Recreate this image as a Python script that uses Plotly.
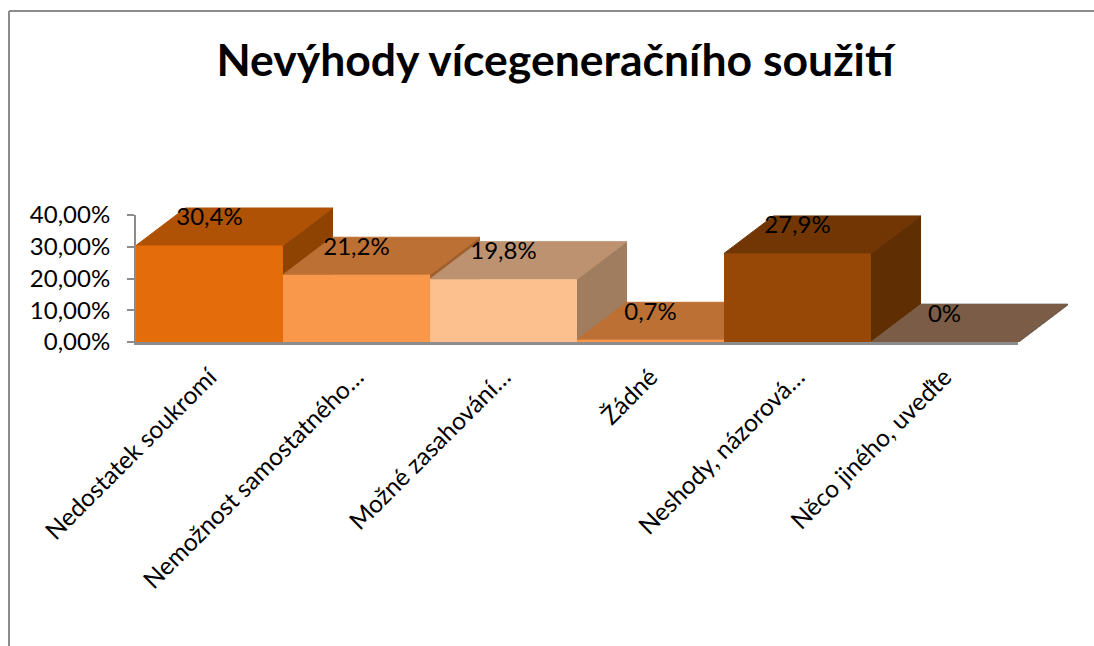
import plotly.graph_objects as go

title = "Nevýhody vícegeneračního soužití"
categories = ["Nedostatek soukromí", "Nemožnost samostatného…", "Možné zasahování…",
              "Žádné", "Neshody, názorová…", "Něco jiného, uveďte"]
values = [30.4, 21.2, 19.8, 0.7, 27.9, 0.0]
value_labels = ["30,4%", "21,2%", "19,8%", "0,7%", "27,9%", "0%"]
tick_values = [0, 10, 20, 30, 40]
tick_labels = ["0,00%", "10,00%", "20,00%", "30,00%", "40,00%"]

front_colors = ["#E46C0A", "#F9974A", "#FCC08F", "#F9974A", "#974806", "#A5795A"]
top_colors = ["#AF5206", "#BC7034", "#BD9270", "#BC7034", "#713604", "#7A5C47"]
side_colors = ["#8E4303", "#A05F2B", "#A07D5E", "#A05F2B", "#5F2E03", "#66503E"]

GREY = "#8C8C8C"
FONT = "Lato, Carlito, Calibri, sans-serif"
DEPTH_X = 0.337   # oblique offset, in category units
DEPTH_Y = 11.8    # oblique offset, in value units
LABEL_LIFT = 8.2

W, H = 1094, 646
PX_L, PX_R, PX_T, PX_B = 136, 1018, 215, 342      # the front plane
OUT_R, OUT_T = 1084, 190                           # the area the oblique faces may use

n = len(values)
unit_x = (PX_R - PX_L) / n
unit_y = (PX_B - PX_T) / 40


def face(xs, ys, color, line=None, width=1):
    return go.Scatter(x=xs, y=ys, mode="lines", fill="toself", fillcolor=color,
                      line=dict(color=line or color, width=width),
                      hoverinfo="skip", showlegend=False, cliponaxis=False,
                      xaxis="x", yaxis="y")


fig = go.Figure()

# floor slab
fig.add_trace(face([0, n, n + DEPTH_X, DEPTH_X, 0], [0, 0, DEPTH_Y, DEPTH_Y, 0], "rgba(0,0,0,0)", GREY, 2))

# oblique faces, painted left to right
for i, v in enumerate(values):
    a, b = i, i + 1
    fig.add_trace(face([b, b + DEPTH_X, b + DEPTH_X, b, b],
                       [0, DEPTH_Y, v + DEPTH_Y, v, 0], side_colors[i]))
    fig.add_trace(face([a, b, b + DEPTH_X, a + DEPTH_X, a],
                       [v, v, v + DEPTH_Y, v + DEPTH_Y, v], top_colors[i]))

# front faces
fig.add_trace(go.Bar(x=[i + 0.5 for i in range(n)], y=values, width=1,
                     marker=dict(color=front_colors, line=dict(width=0)),
                     hoverinfo="skip", showlegend=False, xaxis="x2", yaxis="y2"))

# data labels
fig.add_trace(go.Scatter(x=[i + 0.5 for i in range(n)], y=[v + LABEL_LIFT for v in values],
                         mode="text", text=value_labels, textposition="middle center",
                         textfont=dict(family=FONT, size=24, color="black"),
                         hoverinfo="skip", showlegend=False, cliponaxis=False,
                         xaxis="x2", yaxis="y2"))

px = lambda p: (p - PX_L) / (OUT_R - PX_L)
py = lambda p: (PX_B - p) / (PX_B - OUT_T)
frame = dict(type="line", xref="paper", yref="paper", line=dict(color=GREY, width=2))

fig.update_layout(
    width=W, height=H, autosize=False,
    margin=dict(l=PX_L, r=W - OUT_R, t=OUT_T, b=H - PX_B, pad=0),
    paper_bgcolor="white", plot_bgcolor="rgba(0,0,0,0)",
    showlegend=False, barmode="overlay",
    font=dict(family=FONT, color="black"),
    title=dict(text=f"<b>{title}</b>", x=555 / W, xanchor="center", y=1 - 60 / H, yanchor="middle",
               font=dict(family=FONT, size=44.5, color="black")),
    xaxis=dict(domain=[0, 1], range=[0, (OUT_R - PX_L) / unit_x], visible=False, fixedrange=True),
    yaxis=dict(domain=[0, 1], range=[0, (PX_B - OUT_T) / unit_y], visible=False, fixedrange=True),
    xaxis2=dict(domain=[0, px(PX_R)], range=[0, n], anchor="y2", side="bottom",
                tickmode="array", tickvals=[i + 0.5 for i in range(n)], ticktext=categories,
                tickangle=-45, ticks="", showgrid=False, zeroline=False, ticklabelstandoff=8,
                showline=True, linecolor=GREY, linewidth=3,
                tickfont=dict(family=FONT, size=24.5, color="black"), automargin=False),
    yaxis2=dict(domain=[0, py(PX_T)], range=[0, 40], anchor="x2", side="left",
                tickmode="array", tickvals=tick_values, ticktext=tick_labels,
                ticks="outside", ticklen=7, tickwidth=2, tickcolor=GREY, ticklabelstandoff=12,
                showgrid=False, zeroline=False, showline=True, linecolor=GREY, linewidth=2,
                tickfont=dict(family=FONT, size=24, color="black"), automargin=False),
    shapes=[
        dict(frame, x0=px(9), x1=px(W), y0=py(11), y1=py(11)),
        dict(frame, x0=px(9), x1=px(9), y0=py(11), y1=py(H)),
    ],
)

fig.write_html("out.html", config={"displayModeBar": False},
               post_script="document.body.style.margin='0';window.dispatchEvent(new Event('resize'));")
